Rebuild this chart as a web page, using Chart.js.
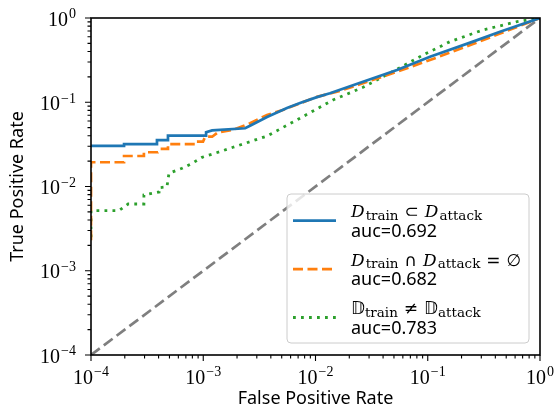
<!DOCTYPE html>
<html lang="en">
<head>
    <meta charset="UTF-8">
    <title>ROC curves</title>
    <script src="https://cdn.jsdelivr.net/npm/chart.js"></script>
    <style>
        body { margin: 0; background: #fff; }
        canvas { display: block; }
    </style>
</head>
<body>
    <canvas id="roc" width="558" height="411"></canvas>

    <script>
        // ROC points (false positive rate, true positive rate) per setting
        const subsetFpr = [1e-4, 1.97e-4, 1.97e-4, 3.87e-4, 3.87e-4, 4.85e-4, 4.85e-4, 1.06e-3, 1.06e-3, 1.2e-3, 2.36e-3, 2.61e-3, 3.7e-3, 5.57e-3, 7.28e-3, 0.0103, 0.01345, 0.0265, 0.0532, 0.1047, 0.253, 0.4406, 1];
        const subsetTpr = [0.0303, 0.0303, 0.0319, 0.0319, 0.0356, 0.0356, 0.0401, 0.0401, 0.044, 0.0464, 0.0491, 0.0527, 0.0668, 0.0855, 0.098, 0.115, 0.1276, 0.1754, 0.2415, 0.3475, 0.524, 0.687, 1];

        const disjointFpr = [1e-4, 1e-4, 1.97e-4, 1.97e-4, 2.96e-4, 2.96e-4, 3.95e-4, 4.12e-4, 4.85e-4, 4.85e-4, 8.44e-4, 8.44e-4, 9.95e-4, 1.04e-3, 1.2e-3, 1.35e-3, 1.84e-3, 2.61e-3, 3.7e-3, 5.12e-3, 7.28e-3, 0.0103, 0.01556, 0.0265, 0.0532, 0.1047, 0.253, 0.4406, 1];
        const disjointTpr = [0.0023, 0.0194, 0.0194, 0.023, 0.023, 0.0255, 0.0255, 0.0279, 0.0279, 0.0319, 0.0319, 0.034, 0.034, 0.039, 0.039, 0.044, 0.0469, 0.0562, 0.0706, 0.081, 0.097, 0.116, 0.1333, 0.168, 0.2307, 0.317, 0.491, 0.655, 1];

        const shiftFpr = [1e-4, 1e-4, 1.77e-4, 2.14e-4, 2.96e-4, 2.96e-4, 4.04e-4, 4.04e-4, 4.75e-4, 4.95e-4, 6.47e-4, 7.94e-4, 9.75e-4, 1.41e-3, 1.84e-3, 3.7e-3, 7.28e-3, 0.01432, 0.0265, 0.0532, 0.0908, 0.158, 0.31, 0.624, 1];
        const shiftTpr = [0.0025, 0.00516, 0.00516, 0.0062, 0.0062, 0.00793, 0.00861, 0.00968, 0.0099, 0.01436, 0.01644, 0.01882, 0.0222, 0.0259, 0.0292, 0.0397, 0.0646, 0.1064, 0.1503, 0.246, 0.364, 0.524, 0.721, 0.904, 1];

        const chanceFpr = [1e-4, 1];
        const chanceTpr = [1e-4, 1];

        const aucLabels = ['auc=0.692', 'auc=0.682', 'auc=0.783'];

        // legend math: it = italic letter, bb = double-struck, sub = subscript, op = relation
        const mathLabels = [
            [['it', 'D'], ['sub', 'train'], ['op', '⊂'], ['it', 'D'], ['sub', 'attack']],
            [['it', 'D'], ['sub', 'train'], ['op', '∩'], ['it', 'D'], ['sub', 'attack'], ['op', '='], ['sym', '∅']],
            [['bb', '𝔻'], ['sub', 'train'], ['op', '≠'], ['bb', '𝔻'], ['sub', 'attack']]
        ];

        const decadeExps = [-4, -3, -2, -1, 0];
        const expLabels = ['−4', '−3', '−2', '−1', '0'];

        const toPoints = (xs, ys) => xs.map((x, i) => ({ x: x, y: ys[i] }));

        const serif = '"Liberation Serif", serif';
        const mathSerif = '"DejaVu Serif", serif';

        function drawMath(ctx, parts, x, y) {
            parts.forEach(([kind, text]) => {
                let dy = 0;
                if (kind === 'it') ctx.font = 'italic 17px ' + mathSerif;
                else if (kind === 'bb') ctx.font = '17px "DejaVu Sans"';
                else if (kind === 'sub') { ctx.font = '13.5px ' + mathSerif; dy = 2.5; }
                else ctx.font = '17px "DejaVu Sans"';
                if (kind === 'op') x += 6;
                ctx.fillText(text, x, y + dy);
                x += ctx.measureText(text).width;
                if (kind === 'op') x += 6;
                if (kind === 'it') x += 1;
            });
        }

        const axesPlugin = {
            id: 'logAxes',
            afterDatasetsDraw(chart) {
                const { ctx, chartArea: a } = chart;
                const w = 242, h = 149;
                const x0 = a.right - 11 - w, y0 = a.bottom - 12 - h;
                ctx.save();
                ctx.beginPath();
                ctx.roundRect(x0, y0, w, h, 4);
                ctx.fillStyle = 'rgba(255,255,255,0.8)';
                ctx.fill();
                ctx.strokeStyle = '#cccccc';
                ctx.lineWidth = 1;
                ctx.stroke();

                for (let i = 0; i < 3; i++) {
                    const ds = chart.data.datasets[i];
                    const top = y0 + i * 48.4;
                    ctx.beginPath();
                    ctx.strokeStyle = ds.borderColor;
                    ctx.lineWidth = ds.borderWidth;
                    ctx.setLineDash(ds.borderDash || []);
                    ctx.moveTo(x0 + 6, top + 26.7);
                    ctx.lineTo(x0 + 49, top + 26.7);
                    ctx.stroke();
                    ctx.setLineDash([]);

                    ctx.fillStyle = '#000';
                    ctx.textBaseline = 'alphabetic';
                    ctx.textAlign = 'left';
                    drawMath(ctx, mathLabels[i], x0 + 64, top + 23.3);
                    ctx.font = '18px "Noto Sans"';
                    ctx.fillText(aucLabels[i], x0 + 64, top + 42.7);
                }
                ctx.restore();
            },
            afterDraw(chart) {
                const { ctx, chartArea: a, scales } = chart;
                const xs = scales.x, ys = scales.y;
                ctx.save();
                ctx.strokeStyle = '#000';

                // outward major and minor ticks on bottom and left
                ctx.lineWidth = 1.1;
                ctx.beginPath();
                decadeExps.forEach(e => {
                    for (let m = 1; m <= 9; m++) {
                        if (e === 0 && m > 1) break;
                        const v = m * Math.pow(10, e);
                        const len = m === 1 ? 6 : 3.5;
                        const px = xs.getPixelForValue(v);
                        ctx.moveTo(px, a.bottom);
                        ctx.lineTo(px, a.bottom + len);
                        const py = ys.getPixelForValue(v);
                        ctx.moveTo(a.left, py);
                        ctx.lineTo(a.left - len, py);
                    }
                });
                ctx.stroke();

                // frame
                ctx.lineWidth = 1.6;
                ctx.strokeRect(a.left, a.top, a.right - a.left, a.bottom - a.top);

                // power-of-ten tick labels
                ctx.fillStyle = '#000';
                ctx.textBaseline = 'alphabetic';
                ctx.textAlign = 'left';
                const mainFont = '20px ' + serif, supFont = '14px ' + serif;
                decadeExps.forEach((e, i) => {
                    const v = Math.pow(10, e);
                    ctx.font = mainFont;
                    const wBase = ctx.measureText('10').width;
                    ctx.font = supFont;
                    const wExp = ctx.measureText(expLabels[i]).width + 1;

                    const px = xs.getPixelForValue(v);
                    let lx = px - (wBase + wExp) / 2;
                    ctx.font = mainFont;
                    ctx.fillText('10', lx, a.bottom + 28.5);
                    ctx.font = supFont;
                    ctx.fillText(expLabels[i], lx + wBase + 1, a.bottom + 21);

                    const py = ys.getPixelForValue(v);
                    lx = a.left - 15 - wBase - wExp;
                    ctx.font = mainFont;
                    ctx.fillText('10', lx, py + 7.6);
                    ctx.font = supFont;
                    ctx.fillText(expLabels[i], lx + wBase + 1, py + 0.3);
                });
                ctx.restore();
            }
        };

        const titleFont = { family: 'Noto Sans', size: 18 };

        new Chart(document.getElementById('roc'), {
            type: 'line',
            data: {
                datasets: [
                    {
                        label: 'subset',
                        data: toPoints(subsetFpr, subsetTpr),
                        borderColor: '#1f77b4',
                        borderWidth: 2.7
                    },
                    {
                        label: 'disjoint',
                        data: toPoints(disjointFpr, disjointTpr),
                        borderColor: '#ff7f0e',
                        borderWidth: 2.7,
                        borderDash: [10, 4.5]
                    },
                    {
                        label: 'shift',
                        data: toPoints(shiftFpr, shiftTpr),
                        borderColor: '#2ca02c',
                        borderWidth: 2.8,
                        borderDash: [2.8, 5.2]
                    },
                    {
                        label: 'chance',
                        data: toPoints(chanceFpr, chanceTpr),
                        borderColor: '#7f7f7f',
                        borderWidth: 2.7,
                        borderDash: [11, 5]
                    }
                ]
            },
            options: {
                responsive: false,
                devicePixelRatio: 1,
                animation: false,
                layout: { padding: { top: 18, right: 18, bottom: 1, left: 0 } },
                elements: {
                    point: { radius: 0 },
                    line: { tension: 0, fill: false, borderCapStyle: 'butt' }
                },
                plugins: {
                    legend: { display: false },
                    tooltip: { enabled: false }
                },
                scales: {
                    x: {
                        type: 'logarithmic',
                        min: 1e-4,
                        max: 1,
                        grid: { display: false, drawTicks: false },
                        border: { display: false },
                        ticks: { display: false },
                        title: {
                            display: true,
                            text: 'False Positive Rate',
                            color: '#000',
                            font: titleFont,
                            padding: { top: 33.4, bottom: 0 }
                        }
                    },
                    y: {
                        type: 'logarithmic',
                        min: 1e-4,
                        max: 1,
                        grid: { display: false, drawTicks: false },
                        border: { display: false },
                        ticks: { display: false },
                        title: {
                            display: true,
                            text: 'True Positive Rate',
                            color: '#000',
                            font: titleFont,
                            padding: { top: 7, bottom: 62.4 }
                        }
                    }
                }
            },
            plugins: [axesPlugin]
        });
    </script>
</body>
</html>
